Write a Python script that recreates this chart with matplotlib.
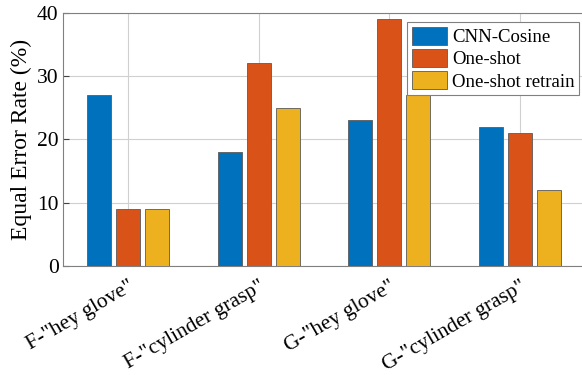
import numpy as np
import matplotlib.pyplot as plt

plt.rcParams['font.family'] = ['Liberation Serif', 'DejaVu Serif']

categories = ['F-"hey glove"', 'F-"cylinder grasp"', 'G-"hey glove"', 'G-"cylinder grasp"']
cnn_cosine = [27, 18, 23, 22]
one_shot = [9, 32, 39, 21]
one_shot_retrain = [9, 25, 27, 12]
series = ['CNN-Cosine', 'One-shot', 'One-shot retrain']
colors = ['#0072BD', '#D95319', '#EDB120']

fig = plt.figure(figsize=(5.82, 3.75), dpi=100)
ax = fig.add_axes([0.108, 0.291, 0.897, 0.675])

x = np.arange(1, len(categories) + 1)
offsets = [-0.222, 0, 0.222]
for vals, off, c, name in zip([cnn_cosine, one_shot, one_shot_retrain], offsets, colors, series):
    ax.bar(x + off, vals, width=0.185, color=c, edgecolor='#5a5a5a', linewidth=0.6,
           label=name, zorder=3)

ax.set_xlim(0.5, 4.5)
ax.set_ylim(0, 40)
ax.set_yticks([0, 10, 20, 30, 40])
ax.set_xticks(x)
ax.set_xticklabels(categories, rotation=30, ha='right', rotation_mode='anchor', fontsize=15.5)
ax.tick_params(axis='y', labelsize=15.5, direction='in', length=4, color='#444444', pad=3)
ax.tick_params(axis='x', direction='in', length=4, color='#444444', pad=8)
ax.set_ylabel('Equal Error Rate (%)', fontsize=17, labelpad=4)
ax.grid(True, color='#d0d0d0', linewidth=0.8, zorder=0)
ax.set_axisbelow(True)
for s in ax.spines.values():
    s.set_color('#808080')
    s.set_linewidth(0.8)

leg = ax.legend(loc='upper right', bbox_to_anchor=(1.0, 0.985), fontsize=13.5,
                frameon=True, fancybox=False, edgecolor='#808080', framealpha=1,
                handlelength=1.9, handleheight=1.1, handletextpad=0.25,
                labelspacing=0.15, borderpad=0.25, borderaxespad=0.3)
leg.get_frame().set_linewidth(0.8)

fig.savefig('out.png', dpi=100)
